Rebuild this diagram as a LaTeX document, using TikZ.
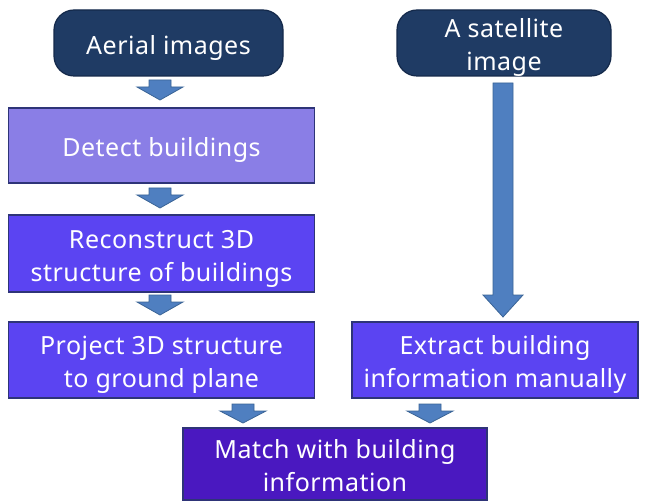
\documentclass[tikz,border=0pt]{standalone}
\usepackage{fontspec}
\setmainfont[LetterSpace=2]{Noto Sans}
\newcommand{\lowtext}[1]{\raisebox{-4.5pt}[\height][\depth]{\begin{tabular}{@{}c@{}}#1\end{tabular}}}
\begin{document}
\begin{tikzpicture}[x=1pt,y=-1pt,
  txt/.style={text=white,font=\fontsize{25}{33}\selectfont,inner sep=0pt},
  navybox/.style={txt,rectangle,rounded corners=20pt,fill=navy,draw=navyedge,line width=1.2pt},
  stepbox/.style={txt,rectangle,draw=boxedge,line width=1.5pt},
  barrow/.style={fill=arrowblue,draw=arrowedge,line width=0.8pt}
]
\definecolor{navy}{HTML}{1F3B64}
\definecolor{navyedge}{HTML}{14294A}
\definecolor{boxedge}{HTML}{2E3478}
\definecolor{detectc}{HTML}{8A7EE6}
\definecolor{midc}{HTML}{5B44F2}
\definecolor{matchc}{HTML}{4A18C0}
\definecolor{arrowblue}{HTML}{4F7FC0}
\definecolor{arrowedge}{HTML}{3A6496}
\useasboundingbox (0,0) rectangle (652,502);
\fill[white] (0,0) rectangle (652,502);

\node[navybox,minimum width=229pt,minimum height=66pt] (aerial) at (168.5,43) {\lowtext{Aerial images}};
\node[navybox,minimum width=214pt,minimum height=66pt] (sat) at (504,43) {\lowtext{A satellite\\image}};
\node[stepbox,fill=detectc,minimum width=306pt,minimum height=75pt] (detect) at (161.5,145.5) {\lowtext{Detect buildings}};
\node[stepbox,fill=midc,minimum width=306pt,minimum height=77pt] (recon) at (161.5,253.5) {\lowtext{Reconstruct 3D\\structure of buildings}};
\node[stepbox,fill=midc,minimum width=306pt,minimum height=76pt] (proj) at (161.5,360) {\lowtext{Project 3D structure\\to ground plane}};
\node[stepbox,fill=midc,minimum width=286pt,minimum height=76pt] (extract) at (495,360) {\lowtext{Extract building\\information manually}};
\node[stepbox,fill=matchc,minimum width=304pt,minimum height=72pt] (match) at (335,464) {\lowtext{Match with building\\information}};

% small block arrows: #1 x centre, #2 top, #3 bottom
\newcommand{\blockarrow}[3]{%
  \draw[barrow] (#1-11,#2) -- (#1+11,#2) -- (#1+11,#2+7) -- (#1+23,#2+7) -- (#1,#3) -- (#1-23,#2+7) -- (#1-11,#2+7) -- cycle;}
\blockarrow{160}{80}{100}
\blockarrow{160}{188}{208}
\blockarrow{160}{295}{315}
\blockarrow{243}{404}{423}
\blockarrow{430}{404}{423}
% long arrow from satellite to extract
\draw[barrow] (493,83) -- (513,83) -- (513,295) -- (523,295) -- (503,317) -- (483,295) -- (493,295) -- cycle;
\end{tikzpicture}
\end{document}
